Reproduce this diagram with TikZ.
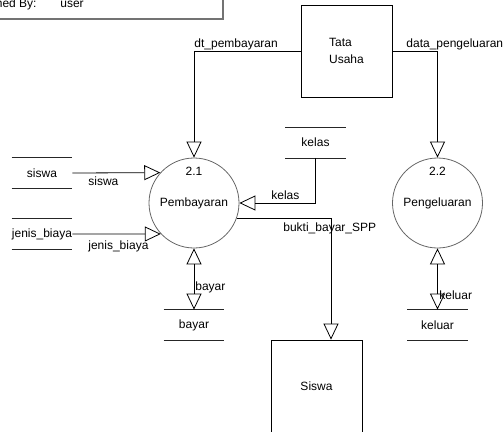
\documentclass[tikz,border=0pt]{standalone}
\usepackage{fontspec}
\setmainfont{Liberation Sans}
\usetikzlibrary{arrows.meta,positioning}

\begin{document}
\begin{tikzpicture}[x=1pt,y=-1pt,font=\fontsize{12}{14}\selectfont,line width=0.8pt,
ent/.style={draw,rectangle,minimum width=91pt,minimum height=92pt,inner sep=0pt},
proc/.style={draw=black!60,circle,minimum size=90pt,inner sep=0pt},
store/.style={minimum width=60pt,minimum height=30pt,inner sep=0pt},
storeline/.style={draw=black!85},
flw/.style={-{Triangle[open,length=16pt,width=15pt]}},
flwboth/.style={{Triangle[open,length=16pt,width=15pt]}-{Triangle[open,length=16pt,width=15pt]}},
lbl/.style={anchor=base west,inner sep=0pt}]
\useasboundingbox (0,0) rectangle (503,431);
\node[draw=black!55,line width=1.5pt,minimum width=230pt,minimum height=26pt] (info) at (108,6) {};
\node[lbl] (lby) at (-4.5,7.5) {ned By:};
\node[lbl] (lusr) at (60,7.5) {user};
\node[ent,font=\fontsize{12}{17}\selectfont,align=left] (tata) at (346.5,51) {Tata\\Usaha};
\node[ent] (siswaE) at (316.5,386) {Siswa};
\node[proc] (p21) at (194,203) {Pembayaran};
\node[proc] (p22) at (437.5,203) {Pengeluaran};
\node (n21) at (194,171) {2.1};
\node (n22) at (437.5,171.5) {2.2};
\node[store] (sis) at (42,173) {siswa};
\node[store] (jen) at (42,234) {jenis\_biaya};
\node[store] (kel) at (315.5,142.5) {kelas};
\node[store] (bay) at (194,325) {bayar};
\node[store] (kelu) at (437.5,325) {keluar};
\foreach \s in {sis,jen,kel,bay,kelu} {
   \draw[storeline] (\s.north west) -- (\s.north east) (\s.south west) -- (\s.south east);
}
\draw[flw] (tata.west) -| (p21.north);
\draw[flw] (tata.east) -| (p22.north);
\draw[flw] (sis.east) -- (p21.138.5);
\draw[flw] (jen.east) -- (p21.223);
\draw[flw] (kel.south) |- (p21.east);
\draw[flw] (p21.-20.8) -| ([xshift=14.5pt]siswaE.north);
\draw[flwboth] (p21.south) -- (bay.north);
\draw[flwboth] (p22.south) -- (kelu.north);
\node[lbl] (ldt) at (194,47) {dt\_pembayaran};
\node[lbl] (ldp) at (406,47) {data\_pengeluaran};
\node[lbl] (lsis) at (88,185) {siswa};
\node[lbl] (ljen) at (88,249) {jenis\_biaya};
\node[lbl] (lkel) at (271,199.5) {kelas};
\node[lbl] (lbuk) at (283,231) {bukti\_bayar\_SPP};
\node[lbl] (lbay) at (195,290) {bayar};
\node[lbl] (lkelu) at (439,299) {keluar};
\end{tikzpicture}
\end{document}
